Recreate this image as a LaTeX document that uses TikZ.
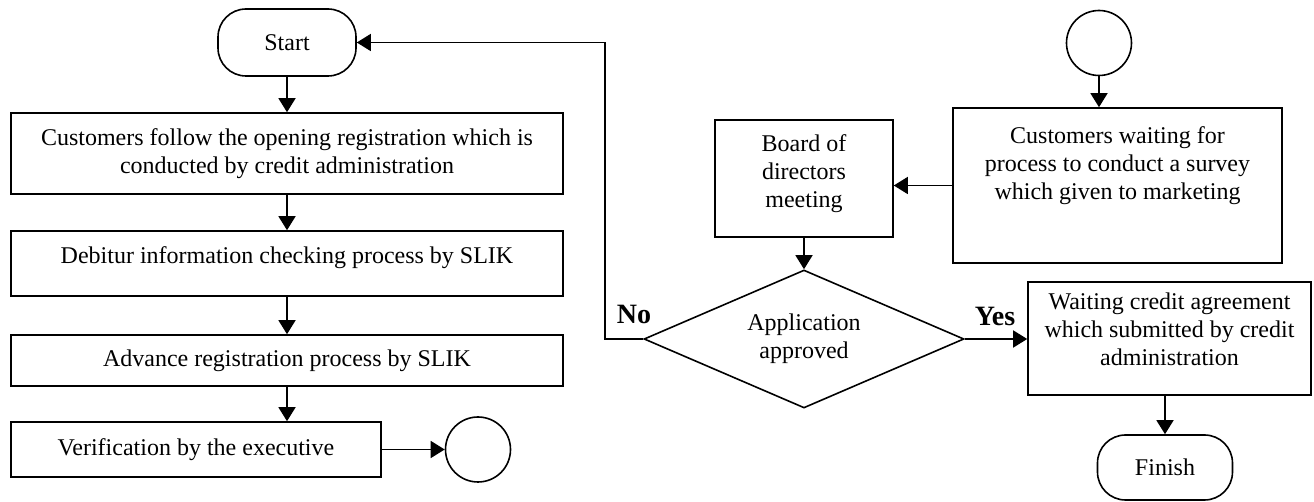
\documentclass[tikz,border=0pt]{standalone}
\usepackage{fontspec}
\setmainfont{Liberation Serif}
\usetikzlibrary{shapes.geometric, arrows.meta}
\newcommand{\padlow}[1]{\rule[-#1]{0pt}{#1}}

\begin{document}
\begin{tikzpicture}[
    x = 0.5pt, y = -0.5pt,
    every node/.style = {align=center, font=\fontsize{12}{14}\selectfont},
    process/.style = {draw, rectangle, line width=0.8pt},
    terminal/.style = {draw, rectangle, rounded corners=14pt, line width=0.8pt},
    connector/.style = {draw, circle, minimum size=32.5pt, inner sep=0pt, line width=0.8pt},
    decision/.style = {draw, diamond, aspect=2.32, minimum width=160pt, minimum height=69pt, inner sep=0pt, line width=0.8pt},
    answer/.style = {font=\fontsize{14}{16}\selectfont\bfseries},
    flow/.style = {-{Triangle[length=7pt, width=8.5pt]}, line width=0.75pt}
    ]
    \useasboundingbox (0,0) rectangle (1314,502);

    \node[terminal, minimum width=69pt, minimum height=33.5pt] (start) at (287,42.5) {Start};
    \node[process, minimum width=276pt, minimum height=40.5pt] (reg) at (287,153.5)
        {Customers follow the opening registration which is\\conducted by credit administration};
    \node[process, minimum width=276pt, minimum height=32.5pt] (check) at (287,263.5)
        {Debitur information checking process by SLIK\padlow{8.8pt}};
    \node[process, minimum width=276pt, minimum height=25.5pt] (adv) at (287,360.5)
        {Advance registration process by SLIK};
    \node[process, minimum width=185pt, minimum height=27.5pt] (verif) at (196,449.5)
        {Verification by the executive};
    \node[connector] (outpage) at (478,449.5) {};

    \node[connector] (inpage) at (1099,43) {};
    \node[process, minimum width=164.5pt, minimum height=77.5pt] (survey) at (1117.5,185.5)
        {Customers waiting for\\process to conduct a survey\\which given to marketing\padlow{22.8pt}};
    \node[process, minimum width=89pt, minimum height=58.5pt] (board) at (804,178.5)
        {Board of\\directors\\meeting\padlow{7.8pt}};
    \node[decision] (approve) at (804,339) {Application\\approved};
    \node[process, minimum width=141.5pt, minimum height=56.5pt] (agree) at (1169.5,338.5)
        {Waiting credit agreement\\which submitted by credit\\administration\padlow{9.3pt}};
    \node[terminal, minimum width=67.5pt, minimum height=32.5pt] (finish) at (1165,467.5) {Finish};

    \node[answer] (no) at (634,314) {No};
    \node[answer] (yes) at (995,316) {Yes};
    \coordinate (back) at (605,339);

    \draw[flow] (start) -- (reg);
    \draw[flow] (reg) -- (check);
    \draw[flow] (check) -- (adv);
    \draw[flow] (adv.south) -- (adv.south |- verif.north);
    \draw[flow] (verif.east) -- (outpage.west);
    \draw[flow] (inpage.south) -- (inpage.south |- survey.north);
    \draw[flow] (survey.west) -- (survey.west -| board.east);
    \draw[flow] (board) -- (approve);
    \draw[flow] (approve.west) -- (back) |- (start.east);
    \draw[flow] (approve.east) -- (approve.east -| agree.west);
    \draw[flow] (agree.south -| finish.north) -- (finish.north);
\end{tikzpicture}
\end{document}
